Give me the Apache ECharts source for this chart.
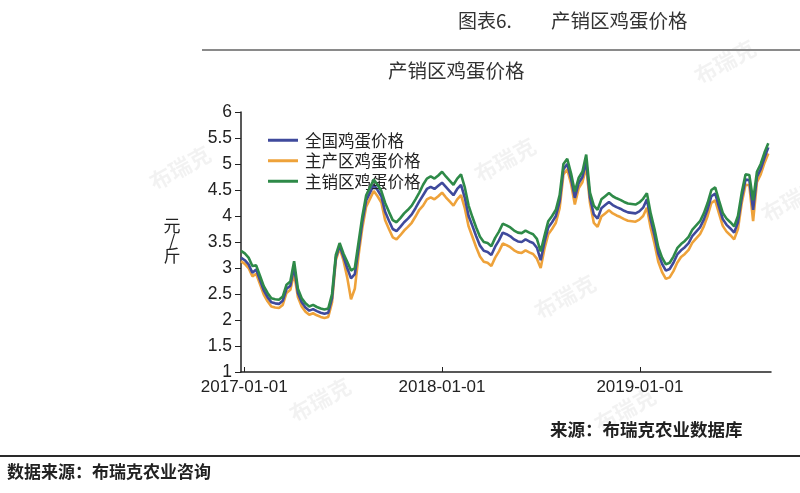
<!DOCTYPE html>
<html>
<head>
<meta charset="utf-8">
<script src="https://cdn.jsdelivr.net/npm/echarts@6/dist/echarts.min.js"></script>
<style>
html,body{margin:0;padding:0;background:#fff;}
#chart{width:800px;height:493px;}
</style>
</head>
<body>
<div id="chart"></div>
<script>
// Weekly samples starting the week of 2016-12-26
const firstWeek = [2016, 11, 26];
const seriesNames = ['全国鸡蛋价格', '主产区鸡蛋价格', '主销区鸡蛋价格'];
const yTickMin = 1, yTickMax = 6, yTickStep = 0.5;

const national = [
  3.20,3.15,3.07,2.91,2.97,2.77,2.57,2.44,2.34,2.32,
  2.31,2.37,2.60,2.66,3.02,2.52,2.34,2.24,2.18,2.21,
  2.17,2.14,2.12,2.14,2.42,3.20,3.43,3.22,3.00,2.80,
  2.88,3.38,3.90,4.30,4.45,4.60,4.50,4.38,4.08,3.91,
  3.75,3.71,3.79,3.88,3.95,4.03,4.15,4.28,4.40,4.52,
  4.56,4.52,4.58,4.64,4.56,4.48,4.40,4.52,4.60,4.35,
  4.00,3.81,3.61,3.43,3.33,3.31,3.25,3.41,3.53,3.68,
  3.65,3.61,3.55,3.51,3.50,3.55,3.51,3.48,3.39,3.15,
  3.50,3.78,3.88,4.00,4.28,4.90,5.00,4.72,4.35,4.63,
  4.75,5.05,4.35,4.03,3.95,4.15,4.21,4.27,4.21,4.17,
  4.14,4.10,4.07,4.06,4.05,4.09,4.16,4.32,3.93,3.63,
  3.28,3.08,2.95,2.98,3.10,3.26,3.34,3.40,3.48,3.62,
  3.70,3.78,3.93,4.13,4.38,4.43,4.18,3.94,3.83,3.76,
  3.68,3.88,4.35,4.70,4.69,4.12,4.75,4.90,5.12,5.32
];
const producing = [
  3.13,3.08,3.00,2.84,2.89,2.69,2.49,2.36,2.26,2.24,
  2.23,2.29,2.52,2.58,2.90,2.44,2.26,2.16,2.10,2.13,
  2.09,2.06,2.04,2.06,2.34,3.15,3.38,3.15,2.82,2.40,
  2.60,3.25,3.78,4.18,4.33,4.48,4.38,4.26,3.92,3.75,
  3.59,3.55,3.63,3.72,3.79,3.87,3.99,4.12,4.20,4.32,
  4.36,4.32,4.38,4.45,4.36,4.28,4.20,4.32,4.40,4.15,
  3.80,3.60,3.40,3.22,3.12,3.10,3.04,3.20,3.32,3.47,
  3.44,3.40,3.34,3.30,3.29,3.34,3.30,3.27,3.18,3.00,
  3.37,3.65,3.75,3.87,4.15,4.80,4.90,4.62,4.22,4.53,
  4.65,4.95,4.25,3.87,3.79,3.99,4.05,4.11,4.05,4.01,
  3.98,3.94,3.91,3.90,3.89,3.93,4.00,4.16,3.77,3.47,
  3.12,2.92,2.79,2.82,2.94,3.10,3.21,3.27,3.35,3.49,
  3.57,3.65,3.80,4.00,4.25,4.30,4.05,3.81,3.70,3.63,
  3.55,3.75,4.25,4.60,4.59,3.90,4.65,4.80,5.02,5.20
];
const consuming = [
  3.33,3.28,3.20,3.04,3.05,2.85,2.65,2.52,2.42,2.40,
  2.39,2.45,2.68,2.74,3.13,2.60,2.42,2.32,2.26,2.29,
  2.25,2.22,2.20,2.22,2.50,3.25,3.48,3.28,3.12,2.95,
  3.00,3.50,4.00,4.40,4.55,4.70,4.60,4.48,4.25,4.08,
  3.92,3.88,3.96,4.05,4.12,4.20,4.32,4.45,4.60,4.72,
  4.76,4.72,4.78,4.85,4.76,4.68,4.60,4.72,4.80,4.55,
  4.20,3.98,3.78,3.60,3.50,3.48,3.42,3.58,3.70,3.85,
  3.82,3.78,3.72,3.68,3.67,3.72,3.68,3.65,3.56,3.32,
  3.62,3.90,4.00,4.12,4.40,5.00,5.10,4.82,4.47,4.73,
  4.85,5.18,4.45,4.20,4.12,4.32,4.38,4.44,4.38,4.34,
  4.31,4.27,4.24,4.23,4.22,4.26,4.33,4.44,4.05,3.75,
  3.40,3.20,3.07,3.10,3.22,3.38,3.46,3.52,3.60,3.74,
  3.82,3.90,4.05,4.25,4.50,4.55,4.30,4.06,3.95,3.88,
  3.80,4.00,4.45,4.80,4.79,4.30,4.85,5.00,5.22,5.40
];

function weekDate(i) {
  return new Date(firstWeek[0], firstWeek[1], firstWeek[2] + 7 * i).getTime();
}
function toPairs(arr) { return arr.map((v, i) => [weekDate(i), v]); }
function pad(n) { return (n < 10 ? '0' : '') + n; }

const xMin = new Date(2016, 11, 26).getTime();
const xMax = new Date(2019, 7, 31).getTime();
const DAY = 86400000;

const FONT = "'Liberation Sans','Noto Sans CJK SC',sans-serif";
const CJK = "'Noto Sans CJK SC',sans-serif";
const colors = ['#3f4a9c', '#eea23a', '#2e8a48'];

function watermark(x, y) {
  return {
    type: 'text', x: x, y: y, rotation: 0.5, silent: true, z: 0,
    style: { text: '布瑞克', fill: 'rgba(0,0,0,0.05)', font: 'bold 22px ' + CJK, align: 'center', verticalAlign: 'middle' }
  };
}

const chart = echarts.init(document.getElementById('chart'), null, { renderer: 'canvas' });
chart.setOption({
  backgroundColor: '#fff',
  animation: false,
  color: colors,
  grid: { left: 241, right: 29, top: 112, bottom: 121, containLabel: false },
  legend: {
    orient: 'vertical', left: 263, top: 127, itemGap: 4,
    itemWidth: 30, itemHeight: 3, icon: 'rect',
    textStyle: { fontSize: 16.5, lineHeight: 16, color: '#222', fontFamily: CJK, padding: [0, 0, 0, 2] },
    data: seriesNames
  },
  xAxis: {
    type: 'time', min: xMin, max: xMax,
    minInterval: 365 * DAY, maxInterval: 366 * DAY,
    axisLine: { lineStyle: { color: '#222', width: 1.5 } },
    axisTick: { show: true, inside: true, length: 5, lineStyle: { color: '#222' } },
    axisLabel: {
      color: '#222', fontSize: 17, fontFamily: FONT, margin: 7, showMinLabel: false, showMaxLabel: false,
      formatter: function (v) {
        const d = new Date(v);
        return d.getFullYear() + '-' + pad(d.getMonth() + 1) + '-' + pad(d.getDate());
      }
    },
    splitLine: { show: false }
  },
  yAxis: {
    type: 'value', min: yTickMin, max: yTickMax, interval: yTickStep,
    axisLine: { show: true, lineStyle: { color: '#222', width: 1.5 } },
    axisTick: { show: true, length: 6, lineStyle: { color: '#222' } },
    axisLabel: { color: '#222', fontSize: 17.5, fontFamily: FONT, margin: 9 },
    splitLine: { show: false }
  },
  series: [
    { name: seriesNames[0], type: 'line', data: toPairs(national), showSymbol: false, symbol: 'none', lineStyle: { width: 2.6 }, z: 3 },
    { name: seriesNames[1], type: 'line', data: toPairs(producing), showSymbol: false, symbol: 'none', lineStyle: { width: 2.6 }, z: 2 },
    { name: seriesNames[2], type: 'line', data: toPairs(consuming), showSymbol: false, symbol: 'none', lineStyle: { width: 2.6 }, z: 4 }
  ],
  graphic: [
    watermark(180, 168), watermark(505, 160), watermark(565, 297), watermark(320, 400),
    watermark(725, 62), watermark(625, 410), watermark(792, 200),
    { type: 'text', left: 458, top: 11, style: { text: '图表6.', font: '19px ' + CJK, fill: '#333' } },
    { type: 'text', left: 551, top: 11, style: { text: '产销区鸡蛋价格', font: '19.5px ' + CJK, fill: '#333' } },
    { type: 'line', shape: { x1: 202, y1: 50, x2: 800, y2: 50 }, style: { stroke: '#8a8a8a', lineWidth: 2 } },
    { type: 'text', left: 388, top: 61, style: { text: '产销区鸡蛋价格', font: '19.5px ' + CJK, fill: '#333' } },
    { type: 'text', x: 172, y: 241, style: { text: '元\n/\n斤', font: '17px ' + CJK, lineHeight: 15, fill: '#222', align: 'center', verticalAlign: 'middle' } },
    { type: 'text', left: 550, top: 421, style: { text: '来源：布瑞克农业数据库', font: 'bold 17.5px ' + CJK, fill: '#222' } },
    { type: 'line', shape: { x1: 0, y1: 456, x2: 800, y2: 456 }, style: { stroke: '#2a2a2a', lineWidth: 2 } },
    { type: 'text', left: 7, top: 463, style: { text: '数据来源：布瑞克农业咨询', font: 'bold 17px ' + CJK, fill: '#222' } }
  ]
});
</script>
</body>
</html>
